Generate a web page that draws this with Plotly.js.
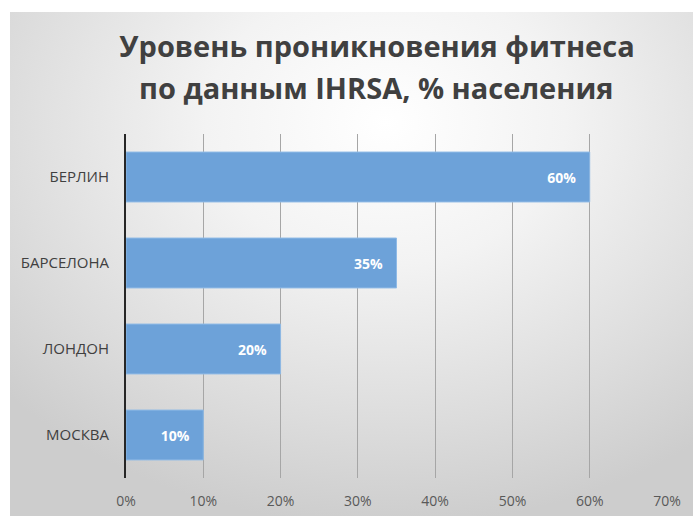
<!DOCTYPE html>
<html>
<head>
<meta charset="utf-8">
<script src="https://cdn.plot.ly/plotly-3.0.1.min.js"></script>
<style>
  html, body { margin: 0; padding: 0; background: #ffffff; }
  #bg {
    position: absolute; left: 10px; top: 12px; width: 683px; height: 504px;
    background: radial-gradient(ellipse 75% 80% at 55% 22%, #ffffff 0%, #f3f3f3 35%, #dcdcdc 75%, #cdcdcd 100%);
  }
  #chart { position: absolute; left: 0; top: 0; width: 693px; height: 516px; }
</style>
</head>
<body>
<div id="bg"></div>
<div id="chart"></div>
<script>
const categories = ['БЕРЛИН', 'БАРСЕЛОНА', 'ЛОНДОН', 'МОСКВА'];
const values = [60, 35, 20, 10];
const labels = ['60%', '35%', '20%', '10%'];
const xTicks = [0, 10, 20, 30, 40, 50, 60, 70];
const xTickText = ['0%', '10%', '20%', '30%', '40%', '50%', '60%', '70%'];
const titleLine1 = 'Уровень проникновения фитнеса';
const titleLine2 = 'по данным IHRSA, % населения';

const pad = '\u00a0\u00a0\u00a0';
const trace = {
  type: 'bar',
  orientation: 'h',
  y: categories,
  x: values,
  text: labels.map(t => t + pad),
  texttemplate: '%{text}',
  marker: { color: '#6da2d9', line: { color: '#8fbae6', width: 1 } },
  textposition: 'inside',
  insidetextanchor: 'end',
  textangle: 0,
  textfont: { family: 'Open Sans, sans-serif', size: 14, color: '#ffffff', weight: 'bold' },
  cliponaxis: false,
  hoverinfo: 'skip'
};

const titleFont = { family: 'Open Sans, sans-serif', size: 29, color: '#404040', weight: 'bold' };

const layout = {
  width: 693, height: 516,
  paper_bgcolor: 'rgba(0,0,0,0)',
  plot_bgcolor: 'rgba(0,0,0,0)',
  margin: { l: 126, r: 26, t: 134, b: 38 },
  showlegend: false,
  bargap: 0.42,
  title: {
    text: titleLine1,
    font: titleFont,
    x: 0.544, xanchor: 'center',
    y: 1 - 47 / 516, yanchor: 'middle'
  },
  annotations: [{
    text: titleLine2,
    font: titleFont,
    xref: 'paper', yref: 'paper',
    x: (376 - 126) / 541, xanchor: 'center',
    y: (478 - 87) / 344, yanchor: 'middle',
    showarrow: false
  }],
  xaxis: {
    range: [0, 70],
    tickvals: xTicks,
    ticktext: xTickText,
    showgrid: true,
    gridcolor: '#a6a6a6',
    gridwidth: 1,
    zeroline: false,
    showline: false,
    ticks: '',
    ticklabelstandoff: 13,
    tickfont: { family: 'Open Sans, sans-serif', size: 14, color: '#595959' },
    fixedrange: true
  },
  yaxis: {
    type: 'category',
    autorange: 'reversed',
    showline: true,
    linecolor: '#262626',
    linewidth: 2,
    showgrid: false,
    zeroline: false,
    ticks: '',
    ticklabelstandoff: 12,
    tickfont: { family: 'Open Sans, sans-serif', size: 15, color: '#404040' },
    fixedrange: true
  }
};

Plotly.newPlot('chart', [trace], layout, { displayModeBar: false, staticPlot: true });
</script>
</body>
</html>
